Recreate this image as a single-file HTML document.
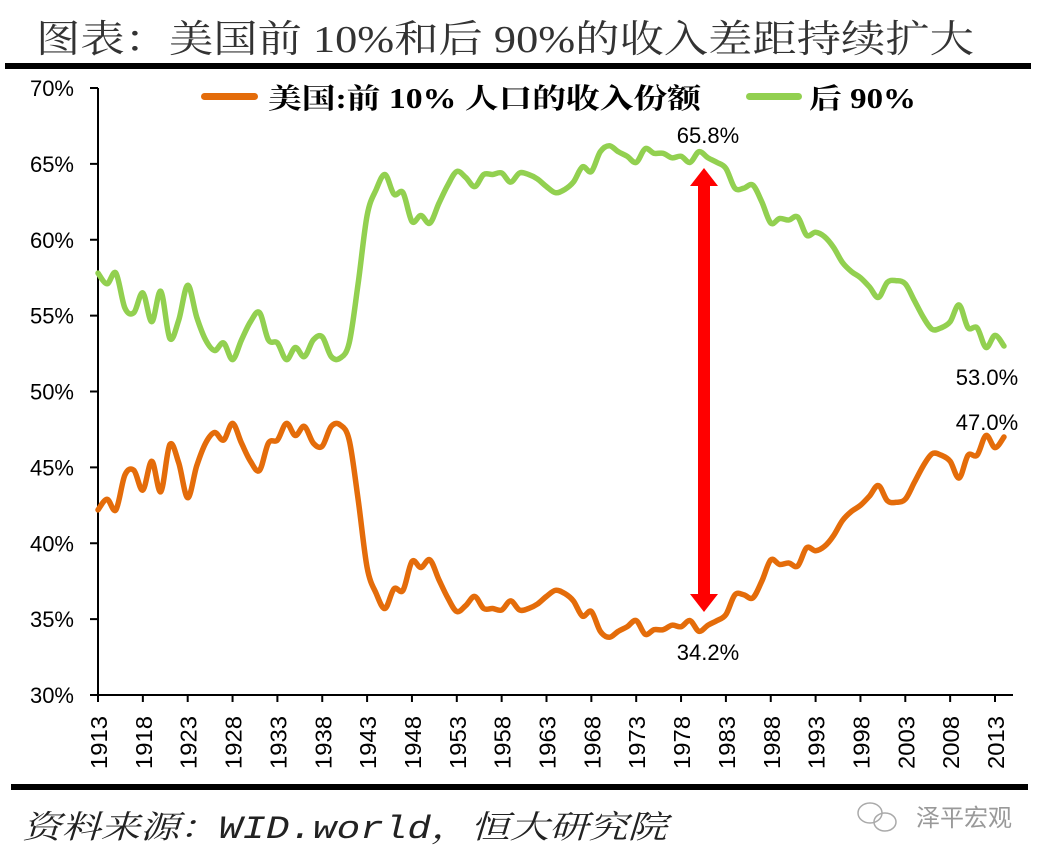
<!DOCTYPE html>
<html><head><meta charset="utf-8"><style>
html,body{margin:0;padding:0;background:#fff;}
body{width:1046px;height:860px;overflow:hidden;position:relative;}
svg{position:absolute;left:0;top:0;}
</style></head><body>
<svg id="s" width="1046" height="860" viewBox="0 0 1046 860" xmlns="http://www.w3.org/2000/svg">
<text x="36" y="52" font-family="'Liberation Serif','Noto Serif CJK SC',serif" font-size="38" fill="#333" textLength="938" lengthAdjust="spacingAndGlyphs">图表：美国前 10%和后 90%的收入差距持续扩大</text>
<rect x="5" y="63" width="1026" height="6" fill="#000"/>
<rect x="11" y="784" width="1017" height="6" fill="#000"/>
<text x="22" y="838" font-family="'Liberation Mono','Noto Serif CJK SC',serif" font-style="italic" font-size="32" fill="#222" textLength="645" lengthAdjust="spacingAndGlyphs">资料来源：WID.world，恒大研究院</text>
<text x="1012" y="826" text-anchor="end" font-family="'Liberation Sans','Noto Sans CJK SC',sans-serif" font-size="24" fill="#999">泽平宏观</text>
<g fill="none" stroke="#aaa" stroke-width="1.5"><ellipse cx="870" cy="813" rx="12" ry="10"/><ellipse cx="885" cy="822" rx="11" ry="9"/></g>
<line x1="98" y1="88" x2="98" y2="695" stroke="#000" stroke-width="2"/>
<line x1="98" y1="695" x2="1013" y2="695" stroke="#000" stroke-width="2"/>
<g id="ax" font-family="'Liberation Sans',sans-serif" font-size="22" fill="#000"></g>
<rect x="201" y="93" width="57" height="7" rx="3.5" fill="#E46C0A"/>
<text id="l1" transform="translate(268,108)" font-family="'Liberation Serif','Noto Serif CJK SC',serif" font-weight="bold" font-size="28">美国:前 10% 人口的收入份额</text>
<rect x="746" y="93" width="56" height="7" rx="3.5" fill="#92D050"/>
<text id="l2" transform="translate(809,108)" font-family="'Liberation Serif','Noto Serif CJK SC',serif" font-weight="bold" font-size="28">后 90%</text>
<path id="g" fill="none" stroke="#92D050" stroke-width="5.5" stroke-linejoin="round" stroke-linecap="round"/>
<path id="o" fill="none" stroke="#E46C0A" stroke-width="5.5" stroke-linejoin="round" stroke-linecap="round"/>
<rect x="698" y="184" width="12" height="412" fill="#f00"/>
<polygon points="704,168 690,186 718,186" fill="#f00"/>
<polygon points="704,612 690,594 718,594" fill="#f00"/>
<g font-family="'Liberation Sans',sans-serif" font-size="22" fill="#000" text-anchor="middle">
<text x="708" y="143">65.8%</text>
<text x="708" y="660">34.2%</text>
<text x="987" y="385">53.0%</text>
<text x="987" y="430">47.0%</text>
</g>
</svg>
<script>
var G=[57.8,57.1,57.8,55.5,55.2,56.5,54.6,56.6,53.5,54.7,57.0,54.9,53.4,52.7,53.2,52.1,53.4,54.6,55.2,53.4,53.2,52.1,52.9,52.3,53.4,53.6,52.3,52.2,53.2,57.1,61.6,63.3,64.3,63.0,63.1,61.2,61.6,61.1,62.4,63.6,64.5,64.1,63.5,64.3,64.3,64.4,63.8,64.4,64.3,64.0,63.5,63.1,63.3,63.8,64.8,64.5,65.8,66.2,65.8,65.5,65.1,66.0,65.7,65.7,65.4,65.5,65.1,65.8,65.4,65.1,64.7,63.4,63.4,63.6,62.5,61.1,61.4,61.3,61.5,60.3,60.5,60.2,59.5,58.5,57.9,57.5,56.9,56.2,57.2,57.3,57.1,56.0,54.9,54.1,54.2,54.6,55.7,54.2,54.2,52.9,53.7,53.0];
function X(i){return 98+i*8.97;}
function Y(v){return 695-(v-30)*15.175;}
function path(vals){var p=vals.map(function(v,i){return [X(i),Y(v)];});
var d="M"+p[0][0].toFixed(1)+","+p[0][1].toFixed(1);
for(var i=0;i<p.length-1;i++){var a=p[Math.max(i-1,0)],b=p[i],c=p[i+1],e=p[Math.min(i+2,p.length-1)];
var c1=[b[0]+(c[0]-a[0])/6,b[1]+(c[1]-a[1])/6],c2=[c[0]-(e[0]-b[0])/6,c[1]-(e[1]-b[1])/6];
d+="C"+c1[0].toFixed(1)+","+c1[1].toFixed(1)+" "+c2[0].toFixed(1)+","+c2[1].toFixed(1)+" "+c[0].toFixed(1)+","+c[1].toFixed(1);}
return d;}
document.getElementById("g").setAttribute("d",path(G));
document.getElementById("o").setAttribute("d",path(G.map(function(v){return 100-v;})));
function fit(id,x,w){var t=document.getElementById(id);var bw=t.getComputedTextLength();var s=w/bw;t.setAttribute("transform","translate("+x+",108) scale("+s+",1)");}
try{fit("l1",268,433);fit("l2",809,107);}catch(e){}
var ax=document.getElementById("ax"),h="";
for(var k=0;k<=8;k++){var v=30+k*5,y=Y(v);h+='<line x1="90" y1="'+y+'" x2="98" y2="'+y+'" stroke="#000" stroke-width="2"/>';
h+='<text x="74" y="'+(y+8)+'" text-anchor="end">'+v+'%</text>';}
for(var yr=1913;yr<=2013;yr+=5){var x=X(yr-1913);h+='<line x1="'+x+'" y1="695" x2="'+x+'" y2="702" stroke="#000" stroke-width="2"/>';
h+='<text transform="translate('+(x+9)+',769) rotate(-90)" font-size="23" textLength="53" lengthAdjust="spacingAndGlyphs">'+yr+'</text>';}
ax.innerHTML=h;
</script>
</body></html>
